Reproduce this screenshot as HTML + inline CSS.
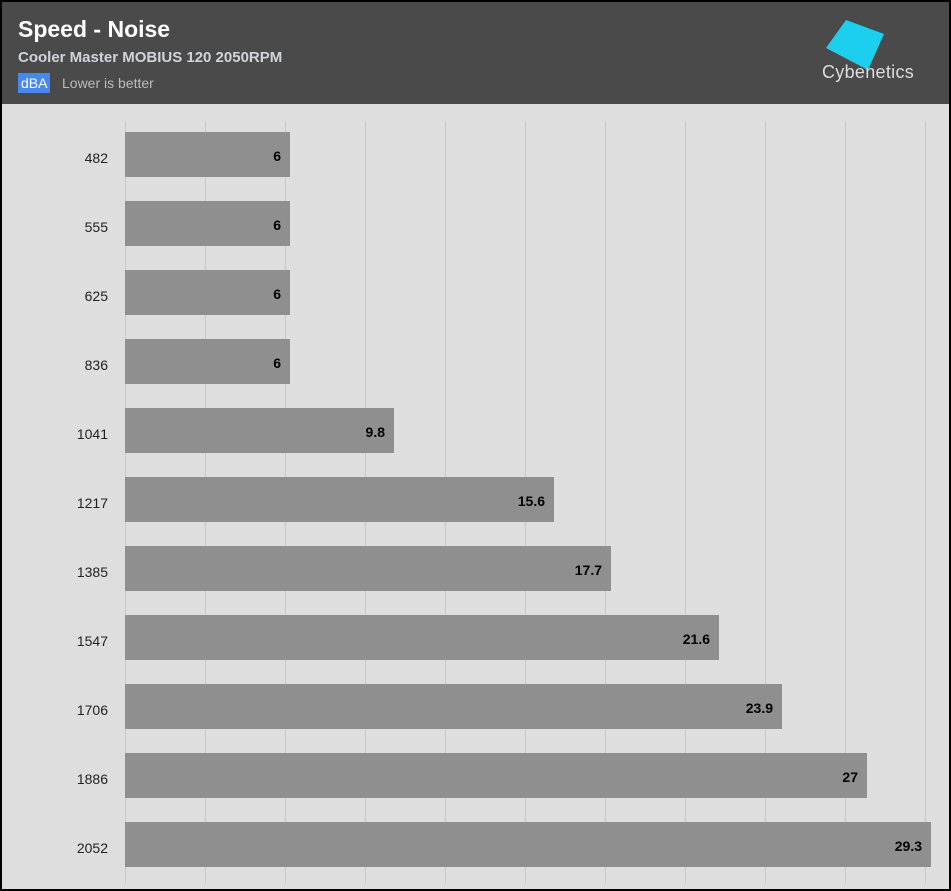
<!DOCTYPE html><html><head><style>
body{margin:0;width:951px;height:891px;overflow:hidden;font-family:"Liberation Sans",sans-serif}
.f{position:absolute;left:0;top:0;width:947px;height:887px;border:2px solid #000;background:#dedede}
.h{position:absolute;left:0;top:0;width:947px;height:102px;background:#4a4a4a}
.g{position:absolute;top:119px;height:762px;width:1px;background:#c9c9c9}
.b{position:absolute;left:123px;height:45px;background:#8f8f8f}
.v{position:absolute;right:9px;top:16px;font-weight:bold;font-size:14px;color:#000}
.l{position:absolute;left:20px;width:86px;text-align:right;font-size:14px;color:#222}
</style></head><body><div class="f">
<div class="h">
<div style="position:absolute;left:16px;top:14px;color:#fff;font-size:23px;font-weight:bold">Speed - Noise</div>
<div style="position:absolute;left:16px;top:47px;color:#d0d4dc;font-size:15px;font-weight:bold">Cooler Master MOBIUS 120 2050RPM</div>
<div style="position:absolute;left:16px;top:71px;background:#4a86f0;color:#fff;font-size:14px;padding:1px 3px;height:18px;line-height:18px">dBA</div>
<div style="position:absolute;left:60px;top:73px;color:#bbb;font-size:14px">Lower is better</div>
<svg style="position:absolute;left:820px;top:16px" width="70" height="52"><polygon points="24,2 62,16 46,52 4,30" fill="#1ccfee"/></svg>
<div style="position:absolute;left:820px;top:60px;color:#ddd;font-size:18px;letter-spacing:0.3px">Cybenetics</div>
</div>
<div class="g" style="left:123px"></div><div class="g" style="left:203px"></div><div class="g" style="left:283px"></div><div class="g" style="left:363px"></div><div class="g" style="left:443px"></div><div class="g" style="left:523px"></div><div class="g" style="left:603px"></div><div class="g" style="left:683px"></div><div class="g" style="left:763px"></div><div class="g" style="left:843px"></div><div class="g" style="left:923px"></div>
<div class="b" style="top:130px;width:165px"><span class="v">6</span></div><div class="l" style="top:148px">482</div>
<div class="b" style="top:199px;width:165px"><span class="v">6</span></div><div class="l" style="top:217px">555</div>
<div class="b" style="top:268px;width:165px"><span class="v">6</span></div><div class="l" style="top:286px">625</div>
<div class="b" style="top:337px;width:165px"><span class="v">6</span></div><div class="l" style="top:355px">836</div>
<div class="b" style="top:406px;width:269px"><span class="v">9.8</span></div><div class="l" style="top:424px">1041</div>
<div class="b" style="top:475px;width:429px"><span class="v">15.6</span></div><div class="l" style="top:493px">1217</div>
<div class="b" style="top:544px;width:486px"><span class="v">17.7</span></div><div class="l" style="top:562px">1385</div>
<div class="b" style="top:613px;width:594px"><span class="v">21.6</span></div><div class="l" style="top:631px">1547</div>
<div class="b" style="top:682px;width:657px"><span class="v">23.9</span></div><div class="l" style="top:700px">1706</div>
<div class="b" style="top:751px;width:742px"><span class="v">27</span></div><div class="l" style="top:769px">1886</div>
<div class="b" style="top:820px;width:806px"><span class="v">29.3</span></div><div class="l" style="top:838px">2052</div>
</div></body></html>
